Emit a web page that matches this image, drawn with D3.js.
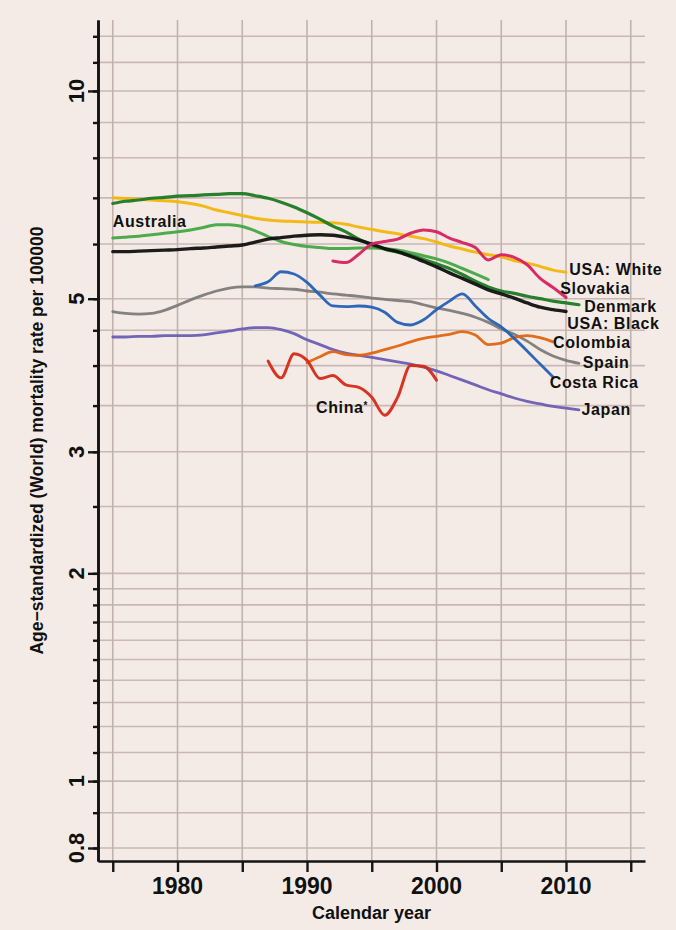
<!DOCTYPE html>
<html>
<head>
<meta charset="utf-8">
<script src="https://cdn.jsdelivr.net/npm/d3@7"></script>
<style>
  html, body { margin: 0; padding: 0; background: #f4ebe6; }
  svg { display: block; font-family: "Liberation Sans", Arial, Helvetica, sans-serif; font-weight: bold; }
</style>
</head>
<body>
<svg id="chart" width="676" height="930"></svg>
<script>
// Age-standardized (World) mortality rate per 100000, by calendar year

const yearTicks = [1975, 1980, 1985, 1990, 1995, 2000, 2005, 2010, 2015];
const yearLabels = [1980, 1990, 2000, 2010];
const rateTicks = [0.8, 0.9, 1, 1.1, 1.2, 1.3, 1.4, 1.5, 1.6, 1.7, 1.8, 1.9, 2, 2.5, 3, 3.5, 4, 4.5, 5, 6, 7, 8, 9, 10, 11, 12];
const rateLabels = [0.8, 1, 2, 3, 5, 10];

// first year of each series, then one value per year
const usaWhiteStart = 1975;
const usaWhite = [7.00, 6.98, 6.97, 6.95, 6.93, 6.91, 6.87, 6.81, 6.72, 6.66,
                  6.60, 6.54, 6.50, 6.48, 6.47, 6.46, 6.45, 6.44, 6.41, 6.35,
                  6.30, 6.25, 6.21, 6.16, 6.11, 6.04, 5.96, 5.90, 5.84, 5.79,
                  5.75, 5.68, 5.63, 5.57, 5.50, 5.46];

const denmarkStart = 1975;
const denmark = [6.87, 6.92, 6.95, 6.99, 7.01, 7.04, 7.05, 7.07, 7.08, 7.10,
                 7.10, 7.05, 6.99, 6.90, 6.79, 6.66, 6.52, 6.37, 6.25, 6.10,
                 5.98, 5.90, 5.84, 5.78, 5.70, 5.62, 5.53, 5.42, 5.30, 5.20,
                 5.13, 5.09, 5.04, 5.00, 4.96, 4.93, 4.90];

const australiaStart = 1975;
const australia = [6.12, 6.14, 6.16, 6.19, 6.22, 6.25, 6.29, 6.34, 6.40, 6.40,
                   6.36, 6.27, 6.15, 6.05, 5.99, 5.95, 5.93, 5.91, 5.91, 5.92,
                   5.92, 5.91, 5.88, 5.83, 5.77, 5.71, 5.63, 5.53, 5.43, 5.33];

const usaBlackStart = 1975;
const usaBlack = [5.85, 5.85, 5.86, 5.87, 5.88, 5.89, 5.91, 5.92, 5.94, 5.96,
                  5.98, 6.04, 6.10, 6.13, 6.16, 6.18, 6.19, 6.18, 6.14, 6.08,
                  6.00, 5.91, 5.85, 5.76, 5.66, 5.56, 5.45, 5.35, 5.25, 5.15,
                  5.08, 5.01, 4.93, 4.86, 4.82, 4.79];

const slovakiaStart = 1992;
const slovakia = [5.67, 5.64, 5.80, 6.00, 6.05, 6.10, 6.22, 6.29, 6.25, 6.12,
                  6.03, 5.93, 5.69, 5.79, 5.74, 5.60, 5.35, 5.19, 5.02];

const spainStart = 1975;
const spain = [4.79, 4.76, 4.75, 4.76, 4.81, 4.89, 4.98, 5.06, 5.13, 5.18,
               5.20, 5.20, 5.18, 5.17, 5.16, 5.13, 5.11, 5.08, 5.06, 5.04,
               5.01, 4.99, 4.97, 4.95, 4.90, 4.85, 4.81, 4.76, 4.70, 4.62,
               4.52, 4.44, 4.34, 4.22, 4.13, 4.07, 4.03];

const costaRicaStart = 1986;
const costaRica = [5.22, 5.29, 5.47, 5.43, 5.28, 5.06, 4.88, 4.87, 4.88, 4.86,
                   4.78, 4.62, 4.58, 4.66, 4.82, 4.96, 5.08, 4.88, 4.68, 4.55,
                   4.38, 4.20, 4.02, 3.85];

const japanStart = 1975;
const japan = [4.40, 4.40, 4.41, 4.41, 4.42, 4.42, 4.42, 4.43, 4.46, 4.49,
               4.52, 4.54, 4.54, 4.51, 4.45, 4.36, 4.29, 4.22, 4.17, 4.14,
               4.11, 4.08, 4.05, 4.02, 3.98, 3.93, 3.87, 3.81, 3.75, 3.69,
               3.64, 3.59, 3.55, 3.52, 3.49, 3.47, 3.45];

const colombiaStart = 1990;
const colombia = [4.04, 4.12, 4.19, 4.15, 4.14, 4.17, 4.22, 4.27, 4.33, 4.38,
                  4.41, 4.44, 4.48, 4.43, 4.29, 4.31, 4.39, 4.42, 4.39, 4.33];

const chinaStart = 1987;
const china = [4.06, 3.84, 4.16, 4.07, 3.83, 3.87, 3.75, 3.72, 3.60, 3.39,
               3.60, 4.00, 3.99, 3.81];

// drawing order, colours and label anchors (year, rate) for each country
const seriesList = [
  { name: "Spain",      start: spainStart,     values: spain,     color: "#7d7b7a", width: 2.8, label: [2011.3, 4.04] },
  { name: "Japan",      start: japanStart,     values: japan,     color: "#6a5db3", width: 2.8, label: [2011.2, 3.46] },
  { name: "Colombia",   start: colombiaStart,  values: colombia,  color: "#e2640f", width: 2.8, label: [2009.0, 4.33] },
  { name: "Costa Rica", start: costaRicaStart, values: costaRica, color: "#2360b6", width: 2.8, label: [2008.75, 3.78] },
  { name: "China",      start: chinaStart,     values: china,     color: "#d62a18", width: 3.0, label: [1990.7, 3.48], star: true },
  { name: "USA: White", start: usaWhiteStart,  values: usaWhite,  color: "#f1b60c", width: 3.0, label: [2010.25, 5.51] },
  { name: "Australia",  start: australiaStart, values: australia, color: "#45a844", width: 3.0, label: [1975.0, 6.48] },
  { name: "Denmark",    start: denmarkStart,   values: denmark,   color: "#1d7a22", width: 3.2, label: [2011.4, 4.88] },
  { name: "USA: Black", start: usaBlackStart,  values: usaBlack,  color: "#111111", width: 3.4, label: [2010.1, 4.60] },
  { name: "Slovakia",   start: slovakiaStart,  values: slovakia,  color: "#d7215f", width: 3.0, label: [2009.55, 5.18] }
];

const svg = d3.select("#chart");

const x = d3.scaleLinear().domain([1973.86, 2016.1]).range([98, 645]);
const y = d3.scaleLog().domain([0.766, 12.67]).range([861, 20]);

const [xLeft, xRight] = x.range();
const [yBottom, yTop] = y.range();

// grid
const grid = svg.append("g").attr("stroke", "#c9b8b4").attr("stroke-width", 1.6);
grid.selectAll("line.h").data(rateTicks).join("line")
  .attr("class", "h")
  .attr("x1", xLeft).attr("x2", xRight)
  .attr("y1", d => y(d)).attr("y2", d => y(d));
grid.selectAll("line.v").data(yearTicks).join("line")
  .attr("class", "v")
  .attr("stroke", "#c2b2ae")
  .attr("x1", d => x(d)).attr("x2", d => x(d))
  .attr("y1", yTop).attr("y2", yBottom);

// lines
const line = d3.line()
  .x(d => x(d.year))
  .y(d => y(d.value))
  .curve(d3.curveMonotoneX);

const lineGroup = svg.append("g").attr("fill", "none")
  .attr("stroke-linejoin", "round").attr("stroke-linecap", "round");

seriesList.forEach(s => {
  const pts = s.values.map((v, i) => ({ year: s.start + i, value: v }));
  lineGroup.append("path")
    .datum(pts)
    .attr("d", line)
    .attr("stroke", s.color)
    .attr("stroke-width", s.width)
    .attr("opacity", 0.95);
});

// country labels
const labels = svg.append("g").attr("fill", "#111")
  .style("font-size", "16px").style("letter-spacing", "0.6px");
seriesList.forEach(s => {
  const t = labels.append("text")
    .attr("x", x(s.label[0]))
    .attr("y", y(s.label[1]))
    .attr("dy", "0.36em")
    .text(s.name);
  if (s.star) {
    t.append("tspan").attr("dy", "-0.45em").style("font-size", "10px").text("*");
  }
});

// y axis: minor ticks, then labelled ticks
const axisColor = "#141414";
const yMinor = svg.append("g").attr("transform", `translate(${xLeft},0)`)
  .call(d3.axisLeft(y).tickValues(rateTicks).tickSize(5).tickSizeOuter(0).tickFormat(""));
const yMajor = svg.append("g").attr("transform", `translate(${xLeft},0)`)
  .call(d3.axisLeft(y).tickValues(rateLabels).tickSize(10).tickSizeOuter(0).tickFormat(""));
[yMinor, yMajor].forEach(g => {
  g.select(".domain").attr("stroke", axisColor).attr("stroke-width", 2.6);
  g.selectAll(".tick line").attr("stroke", axisColor).attr("stroke-width", 2.4);
});

svg.append("g").selectAll("text").data(rateLabels).join("text")
  .attr("transform", d => `translate(84,${y(d)}) rotate(-90)`)
  .attr("text-anchor", "middle")
  .style("font-size", "22px")
  .attr("fill", "#111")
  .text(d => d3.format("~g")(d));

// x axis
const xAxis = svg.append("g").attr("transform", `translate(0,${yBottom})`)
  .call(d3.axisBottom(x).tickValues(yearTicks).tickSize(11).tickSizeOuter(0).tickFormat(""));
xAxis.select(".domain").attr("stroke", axisColor).attr("stroke-width", 2.6);
xAxis.selectAll(".tick line").attr("stroke", axisColor).attr("stroke-width", 2.4);

svg.append("g").selectAll("text").data(yearLabels).join("text")
  .attr("x", d => x(d))
  .attr("y", 894)
  .attr("text-anchor", "middle")
  .style("font-size", "23px")
  .attr("fill", "#111")
  .text(d => d);

// axis titles, centred on the plot region
svg.append("text")
  .attr("x", (xLeft + xRight) / 2)
  .attr("y", 919)
  .attr("text-anchor", "middle")
  .style("font-size", "18px")
  .attr("fill", "#111")
  .text("Calendar year");

svg.append("text")
  .attr("transform", `translate(43,${(yTop + yBottom) / 2}) rotate(-90)`)
  .attr("text-anchor", "middle")
  .style("font-size", "17.5px")
  .attr("fill", "#111")
  .text("Age\u2212standardized (World) mortality rate per 100000");
</script>
</body>
</html>
